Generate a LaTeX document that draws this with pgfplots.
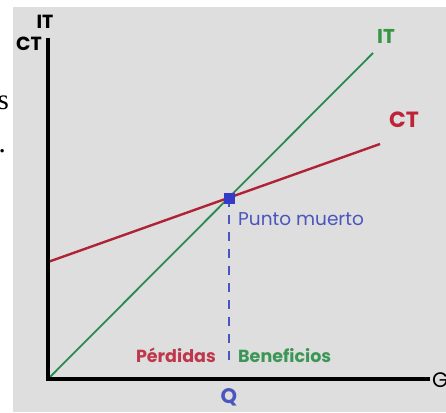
\documentclass[border=0pt]{standalone}
\usepackage{pgfplots}
\pgfplotsset{compat=1.18}
\usepackage{fontspec}
\setmainfont{Poppins}
\newfontfamily\seriffont{Liberation Serif}

\definecolor{bg}{RGB}{222,222,222}
\definecolor{itline}{RGB}{40,140,80}
\definecolor{ctline}{RGB}{175,35,55}
\definecolor{itlab}{RGB}{55,150,65}
\definecolor{ctlab}{RGB}{190,35,55}
\definecolor{perd}{RGB}{190,55,75}
\definecolor{bene}{RGB}{60,150,85}
\definecolor{pm}{RGB}{75,85,190}
\definecolor{sq}{RGB}{50,60,200}

\begin{document}
\begin{tikzpicture}[x=1pt,y=1pt]
\useasboundingbox (0,0) rectangle (446,412);
\fill[white] (0,0) rectangle (446,412);
\fill[bg] (13,0) rectangle (446,405);

% cut-off text on the left margin
\node[font=\seriffont\fontsize{29}{29}\selectfont, anchor=base east, inner sep=0] at (9,302) {s};
\node[font=\seriffont\fontsize{29}{29}\selectfont, anchor=base east, inner sep=0] at (6,259) {.};

\begin{axis}[
    at={(48pt,33pt)}, anchor=origin,
    scale only axis, width=382pt, height=341pt,
    xmin=0, xmax=382, ymin=0, ymax=341,
    hide axis, clip=false
]
% ingreso total
\addplot[itline, line width=1.8pt] coordinates {(0,0) (325,326)};
% coste total
\addplot[ctline, line width=2.4pt] coordinates {(0,117) (332,235)};
% punto muerto
\addplot[pm, line width=1.4pt, dash pattern=on 9pt off 8pt] coordinates {(181,181) (181,13)};
\addplot[only marks, mark=square*, mark size=5pt, sq] coordinates {(181,181)};
\end{axis}

\draw[line width=3.6pt] (48,374) -- (48,33) -- (430,33);

\node[font=\bfseries\fontsize{19}{19}\selectfont, inner sep=0] at (45,390) {IT};
\node[font=\bfseries\fontsize{19}{19}\selectfont, inner sep=0] at (29,368) {CT};
\node[font=\fontsize{21}{21}\selectfont, anchor=west, inner sep=0] at (432,32) {G};

\node[font=\bfseries\fontsize{20}{20}\selectfont, text=itlab, inner sep=0] at (386,376) {IT};
\node[font=\bfseries\fontsize{22}{22}\selectfont, text=ctlab, inner sep=0] at (404,292) {CT};

\node[font=\fontsize{18.5}{18.5}\selectfont, text=pm, anchor=base west, inner sep=0] at (238,186) {Punto muerto};
\node[font=\bfseries\fontsize{17.5}{17.5}\selectfont, text=perd, anchor=base east, inner sep=0] at (216,50) {Pérdidas};
\node[font=\bfseries\fontsize{17.5}{17.5}\selectfont, text=bene, anchor=base west, inner sep=0] at (238,50) {Beneficios};
\node[font=\bfseries\fontsize{21}{21}\selectfont, text=pm, inner sep=0] at (229,15) {Q};
\end{tikzpicture}
\end{document}
